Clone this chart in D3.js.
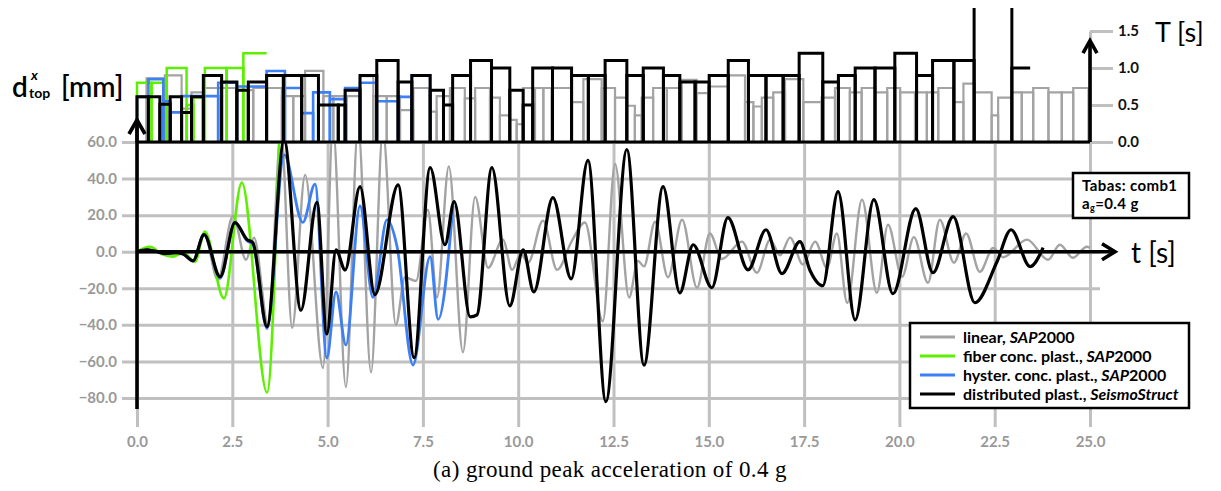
<!DOCTYPE html>
<html>
<head>
<meta charset="utf-8">
<script src="https://cdn.jsdelivr.net/npm/d3@7"></script>
<style>
  html, body { margin: 0; padding: 0; background: #fff; }
  svg { display: block; font-family: Lato, "Open Sans", sans-serif; }
</style>
</head>
<body>
<svg id="chart" width="1221" height="491"></svg>
<script>
// ---------- axes ----------
const timeTicks = [0, 2.5, 5, 7.5, 10, 12.5, 15, 17.5, 20, 22.5, 25];
const dispTicks = [-80, -60, -40, -20, 0, 20, 40, 60];
const periodTicks = [0, 0.5, 1.0, 1.5];

// ---------- top displacement histories [t (s), d (mm)] ----------
const linearSAP = [[0,0],[0.21,1.5],[0.60,-0.5],[1.00,-1.5],[1.26,-1],[1.47,-5],[1.76,10],[2.12,-15.3],[2.52,19.7],[2.86,-4.4],[3.07,7.7],[3.44,-40],[3.78,65],[4.07,-41.6],[4.41,42],[4.88,-63.6],[5.14,68],[5.48,-74],[5.80,68],[6.14,-66],[6.45,66],[6.79,-40],[7.03,-14],[7.32,-16],[7.63,23],[7.87,-25],[8.18,46.6],[8.55,-55],[8.87,30],[9.21,-8.8],[9.60,6.6],[9.84,-9.9],[10.07,-1],[10.26,-6],[10.65,17],[11.02,-9.9],[11.41,6],[11.75,16],[12.22,-38],[12.54,48],[12.91,-25],[13.14,-5],[13.30,-8],[13.59,16.4],[13.93,-14],[14.30,17.5],[14.69,-19.7],[15.03,10],[15.34,-4],[15.87,5.5],[16.26,-11.5],[16.61,6.6],[16.87,-2],[17.13,7.7],[17.47,-7],[17.79,5.5],[18.10,-8.8],[18.36,10],[18.63,-28],[19.02,28.5],[19.41,-22.5],[19.70,14.8],[20.07,-13.7],[20.38,8],[20.75,-17],[21.06,17.5],[21.43,-6],[21.75,10],[22.11,-11],[22.46,2],[22.72,-3],[23.35,6.6],[23.90,-4.4],[24.21,3.8],[24.55,-3.3],[24.92,2.7],[25,2]];

const fiberSAP = [[0,0],[0.34,2.7],[0.68,-1.6],[0.94,-2.7],[1.21,-0.5],[1.52,-5.5],[1.78,11],[2.28,-25.5],[2.75,37.8],[3.41,-77],[3.73,62]];

const hysterSAP = [[0,0],[0.26,1],[0.47,0.3],[0.73,-1],[1.00,-0.5],[1.21,-1.2],[1.47,-5],[1.76,9.3],[2.18,-14.5],[2.57,16],[2.89,6],[3.04,4],[3.41,-42],[3.86,53],[4.35,16],[4.67,37],[4.98,-58],[5.22,-22],[5.48,-51],[5.85,25],[6.19,-25],[6.56,17.5],[6.82,3],[7.24,-62],[7.69,-2.7],[7.90,-37],[8.29,25]];

const distSeismo = [[0,0],[0.26,1],[0.47,0.3],[0.73,-1],[1.00,-0.5],[1.21,-1.2],[1.47,-5],[1.76,9.3],[2.18,-13.7],[2.57,15.9],[2.89,6.6],[3.04,5],[3.41,-41],[3.86,61],[4.30,-32],[4.72,27],[4.98,-45],[5.22,1],[5.46,-10],[5.85,35.6],[6.24,-23.5],[6.85,36.5],[7.27,-58],[7.69,46],[8.08,3.8],[8.32,27.4],[8.74,-35.6],[8.92,-34.5],[9.31,46],[9.78,-29.6],[10.13,1],[10.41,-22],[10.91,29.6],[11.39,-14.8],[11.83,49.9],[12.30,-82],[12.85,55.9],[13.30,-62],[13.80,35.6],[14.24,-22.5],[14.59,3.8],[15.08,-19.7],[15.50,18.6],[16.03,-9.9],[16.50,12],[16.92,-12],[17.39,5.5],[17.65,-10],[17.99,-18.6],[18.39,32.9],[18.84,-37.3],[19.33,28.5],[19.83,-23],[20.43,23.6],[20.88,-11.5],[21.41,19.2],[21.98,-27.9],[22.56,-5.5],[22.93,12],[23.43,-8.2],[23.77,2.2]];

// ---------- instantaneous periods: interval edges (s) and T (s) ----------
const linearEdges = [0.00,0.25,0.73,1.17,1.43,1.74,2.22,2.62,3.05,3.80,4.10,4.41,4.89,5.15,5.50,5.85,6.20,6.55,6.90,7.25,7.69,7.86,8.04,8.21,8.60,8.87,9.26,9.52,9.78,9.96,10.13,10.44,10.66,10.88,11.40,11.71,12.19,12.54,12.85,13.06,13.24,13.54,13.90,14.29,14.68,14.99,15.51,15.95,16.17,16.39,16.69,17.00,17.48,17.96,18.31,18.70,19.01,19.36,19.68,20.02,20.41,20.72,21.02,21.41,21.68,21.98,22.42,22.59,22.95,23.21,23.51,23.91,24.26,24.56,24.96];
const linearPeriods = [0.61,0.86,0.90,0.45,0.67,0.73,0.73,0.70,0.73,0.62,0.62,0.96,0.62,0.62,0.62,0.89,0.62,0.62,0.43,0.73,0.41,0.62,0.62,0.73,0.59,0.73,0.60,0.36,0.30,0.24,0.73,0.73,0.73,0.73,0.54,0.85,0.73,0.60,0.49,0.36,0.60,0.73,0.73,0.84,0.66,0.75,0.90,0.54,0.48,0.60,0.67,0.85,0.54,0.60,0.73,0.67,0.73,0.67,0.73,0.67,0.67,0.67,0.73,0.54,0.79,0.67,0.36,0.60,0.67,0.67,0.73,0.67,0.67,0.73];

const fiberEdges = [0.00,0.38,0.78,1.30,1.48,1.78,2.35,2.79,3.40];
const fiberPeriods = [0.80,0.80,1.00,0.50,0.60,1.00,1.00,1.20];

const hysterEdges = [0.00,0.30,0.69,0.87,1.17,2.13,2.62,3.40,3.88,4.32,4.62,5.06,5.46,5.85,6.29,6.85,7.21,7.69];
const hysterPeriods = [0.61,0.85,0.55,0.40,0.62,0.80,0.75,0.96,0.73,0.39,0.67,0.58,0.73,0.80,0.55,0.61,0.90];

const distEdges = [0.00,0.30,0.60,0.87,1.17,1.43,1.74,2.22,2.62,2.92,3.40,3.84,4.32,4.76,5.28,5.46,5.85,6.29,6.85,7.21,7.69,8.04,8.28,8.75,9.30,9.78,10.13,10.38,10.90,11.40,11.84,12.28,12.85,13.28,13.81,14.24,14.64,15.01,15.51,16.04,16.50,16.95,17.37,17.99,18.40,18.84,19.36,19.88,20.45,20.87,21.43,21.96,22.95,23.43];
const distPeriods = [0.61,0.61,0.51,0.61,0.40,0.61,0.90,0.81,0.70,0.81,0.90,0.90,0.90,0.50,0.50,0.70,0.90,1.10,0.81,0.90,0.70,0.50,0.90,1.10,1.00,0.70,0.50,1.00,1.00,0.90,0.90,1.10,0.90,1.00,0.90,0.81,0.81,0.90,1.10,0.90,0.90,0.90,1.20,0.81,0.90,1.00,1.00,1.20,0.90,1.10,1.10,2.00,1.00];

const seriesLabels = [
  ["linear, ", "SAP", "2000"],
  ["fiber conc. plast., ", "SAP", "2000"],
  ["hyster. conc. plast., ", "SAP", "2000"],
  ["distributed plast., ", "SeismoStruct", ""]
];
const seriesColors = ["#a3a3a3", "#5cf000", "#3d7ff5", "#000000"];

// ---------- scales ----------
const svg = d3.select("#chart");
const x = d3.scaleLinear().domain([0, 25]).range([137, 1090]);
const y = d3.scaleLinear().domain([-80, 60]).range([398, 142]);
const yT = d3.scaleLinear().domain([0, 1.5]).range([142, 31]);

const defs = svg.append("defs");
defs.append("clipPath").attr("id", "clipMain").append("rect")
  .attr("x", 120).attr("y", y(60)).attr("width", 1000).attr("height", 360);
defs.append("clipPath").attr("id", "clipTop").append("rect")
  .attr("x", 120).attr("y", 8).attr("width", 1000).attr("height", yT(0) - 8);

const gridColor = "#c0c0c0";
const tickFont = "Lato, sans-serif";

// horizontal grid + displacement labels
const gy = svg.append("g").attr("transform", "translate(122,0)")
  .call(d3.axisLeft(y).tickValues(dispTicks).tickSize(-978).tickPadding(5).tickFormat(d3.format(".1f")));
gy.select(".domain").remove();
gy.selectAll(".tick line").attr("stroke", gridColor).attr("stroke-width", 3);
gy.selectAll(".tick text").attr("fill", "#999").attr("font-weight", 700)
  .attr("font-size", 15).attr("font-family", tickFont);

// vertical grid + time labels
const gx = svg.append("g").attr("transform", `translate(0,${y(60)})`)
  .call(d3.axisBottom(x).tickValues(timeTicks).tickSize(285).tickPadding(9).tickFormat(d3.format(".1f")));
gx.select(".domain").remove();
gx.selectAll(".tick line").attr("stroke", gridColor).attr("stroke-width", 3);
gx.selectAll(".tick text").attr("fill", "#999").attr("font-weight", 700)
  .attr("font-size", 15).attr("font-family", tickFont);

// period axis on the right
const gT = svg.append("g").attr("transform", `translate(${x(25)},0)`)
  .call(d3.axisRight(yT).tickValues(periodTicks).tickSize(23).tickSizeOuter(0).tickPadding(5).tickFormat(d3.format(".1f")));
gT.select(".domain").attr("stroke", gridColor).attr("stroke-width", 3);
gT.selectAll(".tick line").attr("stroke", gridColor).attr("stroke-width", 3);
gT.selectAll(".tick text").attr("fill", "#111").attr("font-weight", 700)
  .attr("font-size", 15).attr("font-family", tickFont);

// ---------- period step bars ----------
function stepBars(edges, periods, color, width, openEnd) {
  const g = svg.append("g").attr("clip-path", "url(#clipTop)");
  periods.forEach((T, i) => {
    const x0 = x(edges[i]), x1 = x(edges[i + 1]), yt = yT(T), yb = yT(0);
    const last = i === periods.length - 1;
    const d = `M${x0},${yb}V${yt}H${x1}` + (last && openEnd ? "" : `V${yb}`);
    g.append("path").attr("d", d).attr("fill", "none")
      .attr("stroke", color).attr("stroke-width", width)
      .attr("stroke-linejoin", "miter");
  });
}
stepBars(linearEdges, linearPeriods, seriesColors[0], 2.2, false);
stepBars(fiberEdges, fiberPeriods, seriesColors[1], 2.5, true);
stepBars(hysterEdges, hysterPeriods, seriesColors[2], 2.6, false);
stepBars(distEdges, distPeriods, seriesColors[3], 3, true);

// ---------- displacement histories ----------
const line = d3.line().x(d => x(d[0])).y(d => y(d[1])).curve(d3.curveMonotoneX);
const gCurves = svg.append("g").attr("clip-path", "url(#clipMain)");
[[linearSAP, 2.4], [fiberSAP, 2.6], [hysterSAP, 2.8], [distSeismo, 3.2]].forEach(([data, w], i) => {
  gCurves.append("path").datum(data).attr("d", line)
    .attr("fill", "none").attr("stroke", seriesColors[i])
    .attr("stroke-width", w).attr("stroke-linejoin", "round");
});

// ---------- black axes with chevron arrows ----------
function blackPath(d, w) {
  svg.append("path").attr("d", d).attr("stroke", "#000")
    .attr("stroke-width", w || 3.5).attr("fill", "none").attr("stroke-linecap", "butt");
}
// top-panel baseline
blackPath(`M${x(0)},${yT(0)}H${x(25)}`, 3.2);
// time axis at zero displacement
blackPath(`M${x(0)},${y(0)}H${x(25) + 24}`, 3.6);
blackPath(`M${x(25) + 12},${y(0) - 8}L${x(25) + 25},${y(0)}L${x(25) + 12},${y(0) + 8}`, 3.6);
// displacement axis
blackPath(`M${x(0)},${y(-86)}V${y(60) - 20}`, 3.6);
blackPath(`M${x(0) - 8},${y(60) - 8}L${x(0)},${y(60) - 22}L${x(0) + 8},${y(60) - 8}`, 3.6);
// period axis
blackPath(`M${x(25)},${yT(0)}V${yT(1.36)}`, 3.6);
blackPath(`M${x(25) - 7},${yT(1.2)}L${x(25)},${yT(1.37)}L${x(25) + 7},${yT(1.2)}`, 3.6);

// ---------- axis titles ----------
svg.append("text").attr("x", 1131).attr("y", 263).attr("font-size", 28)
  .attr("font-family", tickFont).attr("fill", "#000").text("t [s]");
svg.append("text").attr("x", 1155).attr("y", 42).attr("font-size", 27)
  .attr("font-family", tickFont).attr("fill", "#000").text("T [s]");
const dl = svg.append("g").attr("font-family", tickFont).attr("fill", "#000");
dl.append("text").attr("x", 12).attr("y", 97).attr("font-size", 28).attr("font-weight", 600).text("d");
dl.append("text").attr("x", 31).attr("y", 80).attr("font-size", 14)
  .attr("font-weight", 700).attr("font-style", "italic").text("x");
dl.append("text").attr("x", 29).attr("y", 98).attr("font-size", 14)
  .attr("font-weight", 700).text("top");
dl.append("text").attr("x", 61).attr("y", 97).attr("font-size", 28).attr("font-weight", 600).text("[mm]");

// ---------- record box ----------
svg.append("rect").attr("x", 1073).attr("y", 173).attr("width", 116).attr("height", 45)
  .attr("fill", "#fff").attr("stroke", "#000").attr("stroke-width", 2.5);
const bt = svg.append("g").attr("font-family", tickFont).attr("font-weight", 700)
  .attr("font-size", 15).attr("letter-spacing", 0.4).attr("fill", "#000");
bt.append("text").attr("x", 1082).attr("y", 191).text("Tabas: comb1");
const ag = bt.append("text").attr("x", 1082).attr("y", 209);
ag.append("tspan").text("a");
ag.append("tspan").attr("font-size", 9).attr("dy", 2).text("g");
ag.append("tspan").attr("dy", -2).text("=0.4 g");

// ---------- legend ----------
const lg = svg.append("g");
lg.append("rect").attr("x", 910).attr("y", 323).attr("width", 279).attr("height", 85)
  .attr("fill", "#fff").attr("stroke", "#000").attr("stroke-width", 2.5);
seriesLabels.forEach((parts, i) => {
  const ly = 337 + i * 19;
  lg.append("line").attr("x1", 920).attr("x2", 955).attr("y1", ly).attr("y2", ly)
    .attr("stroke", seriesColors[i]).attr("stroke-width", 3);
  const t = lg.append("text").attr("x", 963).attr("y", ly + 5.5)
    .attr("font-family", tickFont).attr("font-weight", 700)
    .attr("font-size", 16).attr("fill", "#000");
  t.append("tspan").text(parts[0]);
  t.append("tspan").attr("font-style", "italic").text(parts[1]);
  if (parts[2]) t.append("tspan").text(parts[2]);
});

// ---------- caption ----------
svg.append("text").attr("x", 610).attr("y", 477).attr("text-anchor", "middle")
  .attr("font-family", "'Liberation Serif', 'Times New Roman', serif").attr("font-size", 23)
  .attr("letter-spacing", 0.4)
  .attr("fill", "#000").text("(a) ground peak acceleration of 0.4 g");
</script>
</body>
</html>
